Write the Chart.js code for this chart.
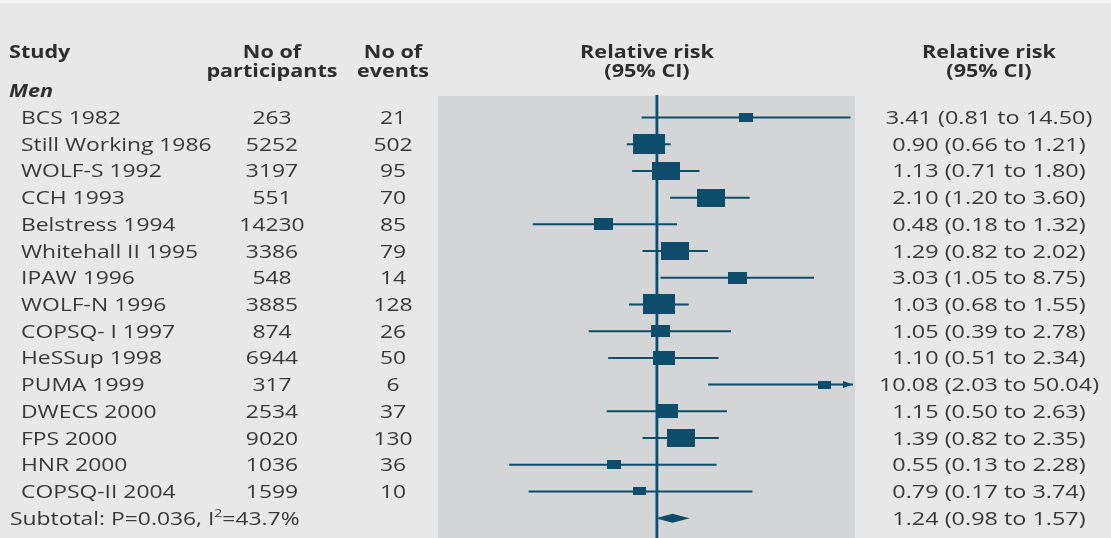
<!DOCTYPE html>
<html><head><meta charset="utf-8">
<script src="https://cdn.jsdelivr.net/npm/chart.js@4"></script>
<style>
html,body{margin:0;padding:0;background:#e8e8e8;overflow:hidden}
#wrap{position:relative;width:1111px;height:538px;overflow:hidden;background:#e8e8e8}
#topstrip{position:absolute;left:0;top:0;width:1111px;height:3px;background:#f3f3f3}
canvas{position:absolute;left:0;top:0}
.t{position:absolute;white-space:nowrap;font-family:"Open Sans",sans-serif;font-size:18px;font-weight:500;color:#383838;line-height:24px;height:24px}
.h{font-weight:700;font-size:17px;color:#2e2e2e}
.l{transform-origin:0 50%;transform:scaleX(1.27)}
.c{transform:translateX(-50%) scaleX(1.27)}
.r{transform:translateX(-50%) scaleX(1.30)}
sup{font-size:11px;line-height:0;position:relative;top:-1px}
</style></head>
<body><div id="wrap"><div id="topstrip"></div><canvas id="c" width="1111" height="538"></canvas></div>
<script>
// ---- data ----
const studies = ["BCS 1982","Still Working 1986","WOLF-S 1992","CCH 1993","Belstress 1994","Whitehall II 1995","IPAW 1996","WOLF-N 1996","COPSQ- I 1997","HeSSup 1998","PUMA 1999","DWECS 2000","FPS 2000","HNR 2000","COPSQ-II 2004"];
const participants = [263,5252,3197,551,14230,3386,548,3885,874,6944,317,2534,9020,1036,1599];
const events = [21,502,95,70,85,79,14,128,26,50,6,37,130,36,10];
const rr = [3.41,0.90,1.13,2.10,0.48,1.29,3.03,1.03,1.05,1.10,10.08,1.15,1.39,0.55,0.79];
const lo = [0.81,0.66,0.71,1.20,0.18,0.82,1.05,0.68,0.39,0.51,2.03,0.50,0.82,0.13,0.17];
const hi = [14.50,1.21,1.80,3.60,1.32,2.02,8.75,1.55,2.78,2.34,50.04,2.63,2.35,2.28,3.74];
const weights = [2.5,12.5,10.1,10.1,4.5,10.1,4.5,12.5,4.5,6.1,2.0,6.1,10.1,2.5,2.0];
const subtotalRR = 1.24, subtotalLo = 0.98, subtotalHi = 1.57;
const subtotalLabel = "Subtotal: P=0.036, I<sup>2</sup>=43.7%";
const xMin = 0.05, xMax = 15;

const COLOR = '#0d4d6b';
const fmt = v => v.toFixed(2);

function boxCanvas(w){
  const h = Math.round(5.66*Math.sqrt(w));
  const wd = Math.round(h*1.58);
  const c = document.createElement('canvas');
  c.width = wd; c.height = h;
  const g = c.getContext('2d');
  g.fillStyle = COLOR; g.fillRect(0,0,wd,h);
  return c;
}

const ciSets = studies.map((s,i)=>({
  type:'scatter', label:s+' CI', showLine:true, order:2,
  data:[{x:lo[i],y:i},{x:hi[i],y:i}],
  borderColor:COLOR, borderWidth:2, pointRadius:0
}));
const boxSet = {
  type:'scatter', label:'RR', order:0,
  data: rr.map((v,i)=>({x:v,y:i})),
  pointStyle: weights.map(boxCanvas), pointRadius:1, backgroundColor:COLOR, borderColor:COLOR
};

const deco = {
  id:'deco',
  beforeDraw(chart){
    const {ctx, chartArea:a} = chart;
    ctx.save();
    ctx.fillStyle = '#d4d5d7';
    ctx.fillRect(a.left-2, a.top, a.right-a.left+4, chart.height-a.top);
    ctx.restore();
  },
  beforeDatasetsDraw(chart){
    const {ctx, chartArea:a, scales:{x}} = chart;
    const px = x.getPixelForValue(1);
    ctx.save();
    ctx.strokeStyle = COLOR; ctx.lineWidth = 2.8;
    ctx.beginPath(); ctx.moveTo(px,a.top-1); ctx.lineTo(px,chart.height); ctx.stroke();
    ctx.restore();
  },
  afterDatasetsDraw(chart){
    const {ctx, chartArea:a, scales:{x,y}} = chart;
    ctx.save();
    ctx.fillStyle = COLOR;
    hi.forEach((v,i)=>{
      if(v > xMax){
        const py = y.getPixelForValue(i);
        ctx.beginPath();
        ctx.moveTo(a.right, py);
        ctx.lineTo(a.right-10, py-3.5);
        ctx.lineTo(a.right-10, py+3.5);
        ctx.closePath(); ctx.fill();
      }
    });
    const dy = y.getPixelForValue(studies.length);
    const hh = 4.5;
    ctx.beginPath();
    ctx.moveTo(x.getPixelForValue(subtotalLo), dy);
    ctx.lineTo(x.getPixelForValue(subtotalRR), dy-hh);
    ctx.lineTo(x.getPixelForValue(subtotalHi), dy);
    ctx.lineTo(x.getPixelForValue(subtotalRR), dy+hh);
    ctx.closePath(); ctx.fill();
    ctx.restore();
  }
};

const chart = new Chart(document.getElementById('c'), {
  data:{ datasets:[boxSet, ...ciSets] },
  options:{
    responsive:false, animation:false, events:[],
    layout:{padding:{left:440, right:258, top:96, bottom:0}},
    plugins:{legend:{display:false}, tooltip:{enabled:false}},
    scales:{
      x:{type:'logarithmic', min:xMin, max:xMax, bounds:'data', display:false},
      y:{type:'linear', min:-0.786, max:15.76, reverse:true, bounds:'data', display:false}
    }
  },
  plugins:[deco]
});
// fit the row scale so that row 0 sits at 117.5px with 26.71px per row
(function(){
  const a = chart.chartArea, rowH = 26.71, y0 = 117.5;
  chart.options.scales.y.min = (a.top - y0)/rowH;
  chart.options.scales.y.max = (a.bottom - y0)/rowH;
  chart.update();
})();

// ---- text ----
const wrap = document.getElementById('wrap');
function txt(html, x, cy, cls){
  const d = document.createElement('div');
  d.className = 't ' + cls;
  d.innerHTML = html;
  d.style.left = x + 'px';
  d.style.top = (cy - 12.5) + 'px';
  wrap.appendChild(d);
}
const Y = i => chart.scales.y.getPixelForValue(i);
const colStudy = 21, colHead = 9, colPart = 272, colEv = 393, colRR = 989;
const colPlot = 647;
txt('Study', colHead, 52, 'h l');
txt('No of', colPart, 52, 'h c');
txt('participants', colPart, 71, 'h c');
txt('No of', colEv, 52, 'h c');
txt('events', colEv, 71, 'h c');
txt('Relative risk', colPlot, 52, 'h c');
txt('(95% CI)', colPlot, 71, 'h c');
txt('Relative risk', colRR, 52, 'h c');
txt('(95% CI)', colRR, 71, 'h c');
txt('<i>Men</i>', colHead, 91, 'h l');
studies.forEach((s,i)=>{
  const cy = Y(i);
  txt(s, colStudy, cy, 'l');
  txt(String(participants[i]), colPart, cy, 'c');
  txt(String(events[i]), colEv, cy, 'c');
  txt(fmt(rr[i])+' ('+fmt(lo[i])+' to '+fmt(hi[i])+')', colRR, cy, 'r');
});
const sy = Y(studies.length);
txt(subtotalLabel, 10, sy, 'l');
txt(fmt(subtotalRR)+' ('+fmt(subtotalLo)+' to '+fmt(subtotalHi)+')', colRR, sy, 'r');
txt('<i>Women</i>', colHead, 547, 'h l');
</script></body></html>
